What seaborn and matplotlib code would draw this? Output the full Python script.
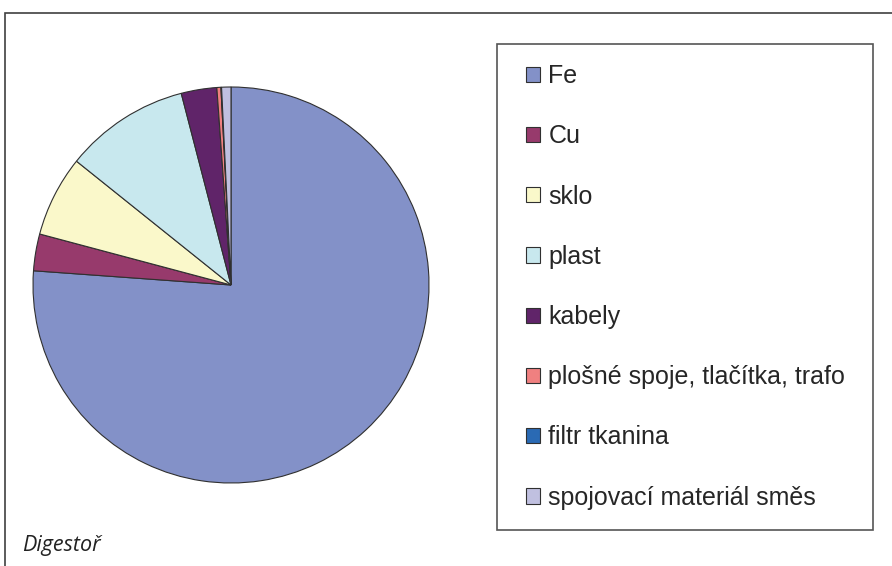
import matplotlib.pyplot as plt
import seaborn as sns
from matplotlib.patches import Rectangle

# podíly materiálů (%)
materialy = ["Fe", "Cu", "sklo", "plast", "kabely",
             "plošné spoje, tlačítka, trafo", "filtr tkanina",
             "spojovací materiál směs"]
podily = [76.1, 3.0, 6.6, 10.2, 2.9, 0.33, 0.05, 0.76]
barvy = ["#8391C8", "#973A6C", "#FAF8CA", "#C8E8EE", "#602469",
         "#F08080", "#2A6AB4", "#C0C0E0"]
nazev = "Digestoř"

sns.set_theme(style="white")
plt.rcParams["font.family"] = ["Liberation Sans", "DejaVu Sans"]
paleta = sns.color_palette(barvy)

W, H = 892, 566
fig = plt.figure(figsize=(W / 100, H / 100), dpi=100)

# vnější rámeček
fig.patches.append(Rectangle((5 / W, -0.1), 1.0, (H - 13) / H + 0.1,
                             transform=fig.transFigure, fill=False,
                             edgecolor="#404040", linewidth=1.2))

ax = fig.add_axes([31 / W, 81 / H, 400 / W, 400 / H])
wedges, _ = ax.pie(podily, colors=paleta, startangle=90, counterclock=False,
                   radius=198 / 200,
                   wedgeprops=dict(edgecolor="#303030", linewidth=0.8))
ax.set_xlim(-1, 1)
ax.set_ylim(-1, 1)
ax.set_axis_off()

# rámeček legendy
fig.patches.append(Rectangle((497 / W, 1 - 530 / H), 376 / W, 486 / H,
                             transform=fig.transFigure, fill=False,
                             edgecolor="#555555", linewidth=1.2))

leg = fig.legend(wedges, materialy, loc="upper left",
                 bbox_to_anchor=(526 / W, 1 - 64 / H), frameon=False,
                 fontsize=18, labelspacing=1.45, handlelength=0.56,
                 handleheight=0.56, handletextpad=0.34, borderpad=0,
                 borderaxespad=0)
for h in leg.legend_handles:
    h.set_edgecolor("#303030")
    h.set_linewidth(0.8)

fig.text(22 / W, 1 - 545 / H, nazev, fontsize=15.5, style="italic",
         family=["Open Sans", "DejaVu Sans"], color="#222222", va="center")

fig.savefig("out.png", dpi=100, facecolor="white")
